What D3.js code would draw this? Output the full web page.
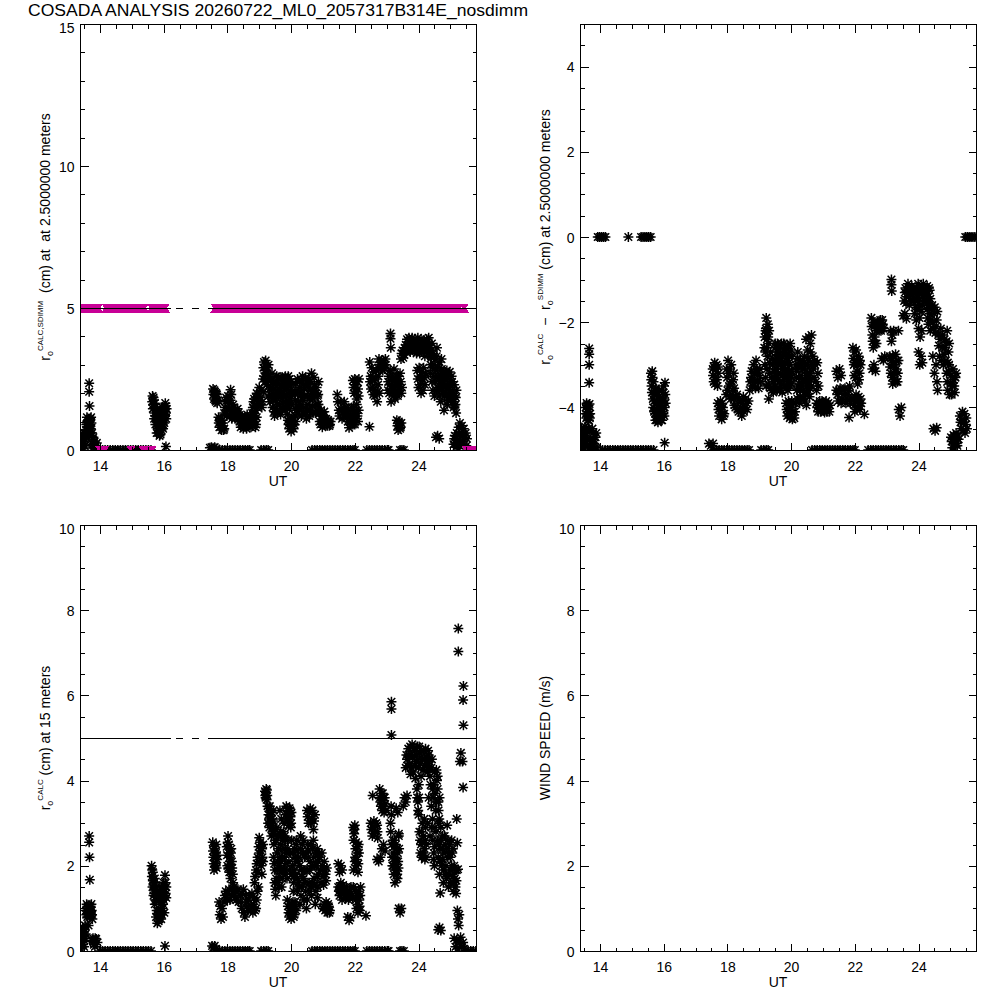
<!DOCTYPE html>
<html><head><meta charset="utf-8">
<script src="https://cdn.jsdelivr.net/npm/d3@7"></script>
<style>
body{margin:0;background:#fff}
svg{display:block}
text{font-family:"Liberation Sans",Arial,sans-serif;fill:#000;white-space:pre}
</style>
</head><body>
<svg id="c" width="1000" height="1000"></svg>
<script>
// ---------------- DATA ----------------
const titleText = "COSADA ANALYSIS 20260722_ML0_2057317B314E_nosdimm";
const utDomain = [13.372, 25.805];
const xMajorTicks = [14, 16, 18, 20, 22, 24];
const xMinorTicks = [13.5,14.5,15,15.5,16.5,17,17.5,18.5,19,19.5,20.5,21,21.5,22.5,23,23.5,24.5,25,25.5];

// Panel 1: r0 CALC at 2.5 m (black asterisks)
const calc25 = [
 [13.39,0.10],[13.41,0.40],[13.43,0.20],[13.45,0.55],[13.47,0.05],[13.49,0.30],[13.51,0.60],[13.53,0.15],[13.55,0.45],[13.57,0.90],[13.59,1.15],[13.61,0.70],[13.63,1.00],[13.65,0.55],[13.67,0.85],[13.69,1.10],[13.71,0.75],[13.73,0.95],[13.75,0.60],[13.78,0.35],[13.80,0.10],[13.83,0.30],[13.86,0.15],[13.90,0.25],[13.66,2.35],[13.66,2.05],[13.67,1.55],[13.66,0.65],
 [13.38,0.30],[13.40,0.55],[13.42,0.05],[13.44,0.35],[13.46,0.25],[13.48,0.45],[13.50,0.15],[13.52,0.40],[13.54,0.60],[13.56,0.70],[13.58,0.50],[13.60,0.95],[13.62,0.60],[13.64,0.80],[13.66,1.05],[13.68,0.70],[13.70,0.90],[13.72,1.15],[13.74,0.50],[13.76,0.20],[13.79,0.45],[13.82,0.05],
 [14.00,0],[14.08,0],[14.16,0],[14.24,0],[14.32,0],[14.40,0],[14.48,0],[14.56,0],[14.64,0],[14.72,0],[14.80,0],[14.88,0],[14.96,0],[15.04,0],[15.12,0],[15.20,0],[15.28,0],[15.36,0],[15.44,0],[15.52,0],[15.60,0],
 [15.65,1.90],[15.67,1.60],[15.69,1.75],[15.71,1.30],[15.73,1.50],[15.75,1.10],[15.77,1.40],[15.79,0.90],[15.81,1.20],[15.83,0.60],[15.85,0.95],[15.87,0.50],[15.89,0.80],[15.91,1.05],[15.93,0.70],[15.95,1.25],[15.97,0.90],[15.99,1.35],[16.01,1.10],[16.03,1.50],[16.05,1.65],[16.07,1.30],[16.09,1.45],[16.07,0.12],
 [15.64,1.70],[15.66,1.45],[15.68,1.85],[15.70,1.10],[15.72,1.65],[15.74,0.90],[15.76,1.20],[15.78,0.60],[15.80,1.45],[15.82,0.75],[15.84,1.15],[15.86,0.65],[15.88,1.30],[15.90,0.55],[15.92,1.00],[15.94,0.80],[15.96,1.50],[15.98,0.75],[16.00,1.40],[16.02,0.95],[16.04,1.25],[16.06,1.55],[16.08,1.10],
 [17.45,0.08],[17.50,0.10],[17.55,0.06],[17.60,0.10],[17.65,0.05],
 [17.55,2.15],[17.58,1.80],[17.61,2.05],[17.64,1.70],[17.67,1.95],[17.70,1.75],[18.10,2.12],
 [17.56,1.95],[17.59,2.10],[17.62,1.75],[17.65,2.00],[17.68,1.65],
 [17.72,1.15],[17.75,0.80],[17.78,1.00],[17.82,0.70],[17.86,0.95],[17.90,0.75],
 [17.73,0.95],[17.77,1.10],[17.80,0.85],[17.84,1.05],[17.88,0.70],
 [17.90,1.30],[17.94,1.70],[17.98,1.20],[18.02,1.90],[18.06,1.45],[18.10,1.75],[18.14,1.10],[18.18,1.60],[18.22,1.25],[18.26,1.40],[18.30,1.15],[18.34,1.30],
 [17.92,1.50],[17.96,1.85],[18.00,1.40],[18.04,1.65],[18.08,1.20],[18.12,1.95],[18.16,1.35],[18.20,1.50],[18.24,1.10],[18.28,1.30],[18.32,1.45],[18.36,1.20],
 [18.38,1.00],[18.42,0.80],[18.46,1.20],[18.50,0.75],[18.54,1.05],[18.58,0.85],[18.62,1.25],[18.66,0.95],[18.70,1.10],[18.74,0.80],[18.78,1.30],[18.82,1.00],[18.86,1.20],[18.90,0.90],
 [18.40,1.15],[18.44,0.95],[18.48,0.85],[18.52,1.10],[18.56,0.95],[18.60,0.75],[18.64,1.10],[18.68,0.85],[18.72,1.20],[18.76,1.00],[18.80,0.85],[18.84,1.10],[18.88,0.80],[18.92,1.15],
 [18.80,1.50],[18.84,1.80],[18.88,1.40],[18.92,2.00],[18.96,1.65],[19.00,2.20],[19.04,1.85],[19.08,1.50],[19.12,2.05],
 [18.82,1.70],[18.86,1.55],[18.90,1.85],[18.94,1.50],[18.98,1.90],[19.02,1.60],[19.06,2.10],[19.10,1.70],
 [19.12,2.50],[19.15,3.10],[19.18,2.80],[19.20,3.15],[19.23,2.30],[19.26,2.90],[19.28,1.90],[19.31,2.60],[19.34,1.70],[19.37,2.20],[19.40,2.70],
 [19.13,2.90],[19.16,2.60],[19.19,2.40],[19.21,2.95],[19.24,2.70],[19.27,2.45],[19.29,3.00],[19.32,2.15],[19.35,2.45],[19.38,1.90],[19.39,2.45],
 [19.42,1.50],[19.45,2.40],[19.48,1.20],[19.52,2.00],[19.55,2.60],[19.58,1.60],[19.62,2.30],[19.65,1.35],[19.68,2.55],[19.72,1.80],[19.75,2.20],[19.78,1.50],[19.82,2.60],[19.85,1.90],[19.88,2.40],[19.92,1.70],[19.95,2.50],[19.98,2.10],[20.02,1.60],
 [19.43,1.90],[19.46,1.75],[19.50,2.30],[19.53,1.45],[19.56,2.10],[19.60,1.90],[19.63,1.60],[19.66,2.10],[19.70,2.30],[19.73,1.45],[19.76,2.00],[19.80,2.35],[19.83,1.70],[19.86,2.20],[19.90,2.00],[19.93,2.30],[19.96,1.80],[20.00,2.40],[20.03,1.95],
 [19.44,2.15],[19.47,1.35],[19.51,1.75],[19.54,2.45],[19.57,1.30],[19.61,2.55],[19.64,1.95],[19.67,1.25],[19.71,2.05],[19.74,2.50],[19.77,1.70],[19.81,1.40],[19.84,2.45],[19.87,1.55],[19.91,2.60],[19.94,1.45],[19.97,2.25],[20.01,2.00],
 [19.88,1.25],[19.92,0.90],[19.96,1.10],[20.00,0.65],[20.04,1.00],[20.08,0.75],[20.12,1.20],
 [19.90,1.05],[19.94,0.75],[19.98,0.95],[20.02,0.85],[20.06,1.15],[20.10,0.90],[20.14,1.00],
 [20.12,2.00],[20.16,1.40],[20.20,2.50],[20.24,1.70],[20.28,2.20],[20.32,1.20],[20.36,2.60],[20.40,1.50],[20.44,2.30],[20.48,1.10],[20.52,1.90],[20.56,2.50],[20.60,1.40],[20.64,2.70],[20.68,1.80],[20.72,2.55],[20.76,1.30],[20.80,2.20],[20.84,1.60],
 [20.14,1.75],[20.18,2.10],[20.22,1.30],[20.26,2.40],[20.30,1.60],[20.34,2.00],[20.38,1.35],[20.42,1.90],[20.46,2.55],[20.50,1.40],[20.54,2.20],[20.58,1.80],[20.62,2.10],[20.66,1.55],[20.70,2.10],[20.74,1.90],[20.78,1.60],[20.82,1.90],[20.86,2.40],
 [20.13,2.35],[20.17,1.55],[20.21,2.00],[20.25,1.45],[20.29,1.90],[20.33,2.45],[20.37,1.75],[20.41,2.15],[20.45,1.25],[20.49,2.35],[20.53,1.60],[20.57,1.20],[20.61,2.40],[20.65,2.00],[20.69,1.30],[20.73,2.30],[20.77,2.00],[20.81,1.40],[20.85,1.95],
 [20.86,1.60],[20.90,1.00],[20.94,1.40],[20.98,0.80],[21.02,1.20],[21.06,0.90],[21.10,1.10],[21.14,0.85],[21.18,1.00],[21.22,0.90],
 [20.88,1.30],[20.92,0.90],[20.96,1.20],[21.00,1.00],[21.04,1.35],[21.08,1.05],[21.12,0.95],[21.16,1.05],[21.20,0.85],[21.24,1.00],
 [21.45,1.95],[21.50,1.40],[21.55,1.70],[21.60,1.10],[21.65,1.50],[21.70,1.25],
 [21.47,1.70],[21.52,1.20],[21.57,1.45],[21.62,1.30],[21.67,1.70],[21.72,1.50],
 [21.74,1.30],[21.78,1.00],[21.82,0.78],[21.86,1.20],[21.90,1.50],[21.94,0.90],[21.98,1.35],[22.02,1.10],[22.06,1.60],[22.10,1.00],
 [21.76,1.15],[21.80,1.40],[21.84,1.00],[21.88,0.90],[21.92,1.20],[21.96,1.50],[22.00,0.90],[22.04,1.30],[22.08,1.20],[22.12,1.40],
 [21.94,2.45],[21.98,2.00],[22.02,2.30],[22.06,1.80],[22.10,2.15],[22.13,2.50],[22.46,0.82],
 [21.96,2.20],[22.00,2.50],[22.04,2.05],[22.08,2.40],[22.12,1.90],
 [22.47,3.10],[22.50,2.60],[22.53,2.90],[22.56,2.20],[22.60,2.75],[22.63,1.90],[22.66,2.50],[22.70,1.70],[22.73,2.30],[22.76,2.85],
 [22.48,2.40],[22.51,2.15],[22.54,2.50],[22.58,1.95],[22.61,2.45],[22.65,2.10],[22.68,2.80],[22.71,2.05],[22.74,2.60],[22.77,2.00],
 [22.76,3.20],[22.80,2.90],[22.84,3.15],[22.88,2.80],[22.92,3.00],[22.96,3.20],
 [22.78,3.00],[22.82,3.10],[22.86,2.95],[22.90,3.15],[22.94,2.85],[22.97,3.00],
 [23.12,4.10],[23.12,3.92],[23.13,3.60],
 [23.05,2.40],[23.08,2.00],[23.11,2.80],[23.14,1.70],[23.17,2.50],[23.20,2.10],[23.23,2.85],[23.26,1.80],[23.29,2.30],[23.32,2.60],[23.35,1.90],[23.38,2.20],[23.42,2.70],[23.46,2.00],
 [23.04,2.10],[23.07,2.60],[23.10,2.30],[23.13,2.05],[23.16,2.25],[23.19,2.60],[23.22,1.90],[23.25,2.40],[23.28,2.05],[23.31,2.00],[23.34,2.40],[23.37,2.60],[23.40,2.10],[23.44,2.40],[23.48,2.20],
 [23.32,1.05],[23.36,0.70],[23.40,0.95],[23.44,0.80],[23.34,0.85],[23.38,1.00],[23.42,0.75],[23.46,0.95],
 [23.45,3.20],[23.50,3.50],[23.55,3.35],[23.60,3.70],[23.64,3.90],[23.68,3.55],[23.72,3.80],[23.76,3.60],[23.80,3.95],[23.84,3.70],[23.88,3.50],[23.92,3.85],[23.96,3.60],[24.00,3.75],[24.04,3.40],[24.08,3.90],[24.12,3.55],[24.16,3.70],[24.20,3.30],[24.24,3.80],[24.28,3.50],[24.32,3.95],[24.36,3.60],[24.40,3.30],
 [23.47,3.40],[23.52,3.25],[23.57,3.60],[23.62,3.45],[23.66,3.70],[23.70,3.95],[23.74,3.45],[23.78,3.75],[23.82,3.55],[23.86,3.85],[23.90,3.65],[23.94,3.40],[23.98,3.95],[24.02,3.60],[24.06,3.70],[24.10,3.45],[24.14,3.85],[24.18,3.50],[24.22,3.65],[24.26,3.90],[24.30,3.40],[24.34,3.70],[24.38,3.50],[24.42,3.75],
 [23.96,2.80],[24.00,2.20],[24.04,2.60],[24.08,2.00],[24.12,2.50],[24.16,2.90],[24.20,2.30],
 [23.98,2.50],[24.02,2.90],[24.06,2.30],[24.10,2.75],[24.14,2.10],[24.18,2.55],[24.22,2.70],
 [24.38,3.00],[24.42,2.40],[24.46,3.40],[24.50,1.90],[24.54,2.80],[24.58,3.60],[24.62,2.20],[24.66,3.10],[24.70,1.70],[24.74,2.60],
 [24.40,3.50],[24.44,2.90],[24.48,2.60],[24.52,3.20],[24.56,2.10],[24.60,2.90],[24.64,2.50],[24.68,2.20],[24.72,3.20],[24.76,2.00],
 [24.37,2.70],[24.41,3.25],[24.45,2.10],[24.49,3.00],[24.53,2.40],[24.57,3.30],[24.61,2.60],[24.65,1.90],[24.69,2.45],[24.73,2.85],[24.77,2.35],[24.81,2.55],[24.85,2.20],[24.89,2.80],[24.93,1.75],[24.97,2.30],[25.01,2.00],[25.05,2.40],[25.09,1.90],[25.13,1.55],[25.17,1.85],
 [24.55,0.45],[24.60,0.50],[24.65,0.40],
 [24.70,2.80],[24.74,2.30],[24.78,2.70],[24.82,1.90],[24.86,2.50],[24.90,1.60],[24.94,2.20],[24.98,2.75],[25.02,1.80],[25.06,2.10],[25.10,1.50],[25.14,1.90],[25.18,1.30],[24.80,1.40],
 [24.72,2.10],[24.76,2.55],[24.80,2.20],[24.84,2.75],[24.88,2.00],[24.92,2.60],[24.96,1.90],[25.00,2.40],[25.04,2.60],[25.08,1.70],[25.12,2.30],[25.16,1.60],[25.19,2.10],
 [25.10,0.20],[25.14,0.50],[25.18,0.10],[25.22,0.35],[25.26,0.80],[25.30,0.95],[25.34,0.60],[25.38,0.30],[25.42,0.75],[25.46,0.45],[25.50,0.15],[25.26,0.05],
 [25.12,0.40],[25.16,0.25],[25.20,0.60],[25.24,0.20],[25.28,0.50],[25.32,0.30],[25.36,0.85],[25.40,0.55],[25.44,0.20],[25.48,0.60],[25.52,0.40],
 [17.76,0],[17.84,0],[17.92,0],[18.00,0],[18.08,0],[18.16,0],[18.24,0],[18.32,0],[18.40,0],[18.48,0],[18.56,0],[18.64,0],[18.70,0],
 [19.06,0],[19.14,0],[19.22,0],[19.28,0],
 [20.66,0],[20.74,0],[20.82,0],[20.90,0],[20.98,0],[21.06,0],[21.14,0],[21.22,0],[21.30,0],[21.38,0],[21.46,0],[21.54,0],[21.62,0],[21.70,0],[21.78,0],[21.86,0],[21.94,0],[22.00,0],
 [22.38,0],[22.46,0],[22.54,0],[22.62,0],[22.70,0],[22.78,0],[22.86,0],[22.94,0],[23.02,0],[23.06,0],
 [23.42,0],[23.48,0],[23.54,0]
];

// Panel 1: r0 SDIMM (magenta markers)
const sdimm25 = [
 [13.40,5],[13.55,5],[13.70,5],[13.84,5],[13.95,5],[14.20,5],[14.33,5],[14.47,5],[14.61,5],[14.75,5],[14.89,5],[15.03,5],[15.17,5],[15.30,5],[15.38,5],[15.62,5],[15.76,5],[15.90,5],[16.04,5],
 [17.62,5],[17.77,5],[17.92,5],[18.07,5],[18.22,5],[18.37,5],[18.52,5],[18.67,5],[18.82,5],[18.97,5],[19.12,5],[19.27,5],[19.42,5],[19.57,5],[19.72,5],[19.87,5],[20.02,5],[20.17,5],[20.32,5],[20.47,5],[20.62,5],[20.77,5],[20.92,5],[21.07,5],[21.22,5],[21.37,5],[21.52,5],[21.67,5],[21.82,5],[21.97,5],[22.12,5],[22.27,5],[22.42,5],[22.57,5],[22.72,5],[22.87,5],[23.02,5],[23.17,5],[23.32,5],[23.47,5],[23.62,5],[23.77,5],[23.92,5],[24.07,5],[24.22,5],[24.37,5],[24.52,5],[24.67,5],[24.82,5],[24.97,5],[25.12,5],[25.27,5],[25.43,5],
 [13.99,0],[14.07,0],[14.15,0],[14.97,0],[15.35,0],[15.45,0],[15.55,0],[15.63,0],[25.50,0],[25.60,0],[25.70,0],[25.80,0]
];

// Panel 2: r0 CALC - r0 SDIMM at 2.5 m
const diff25 = [
 [13.93,0],[13.99,0],[14.05,0],[14.11,0],[14.17,0],[14.89,0],[15.29,0],[15.35,0],[15.41,0],[15.47,0],[15.53,0],[15.59,0],[25.47,0],[25.53,0],[25.59,0],[25.65,0],[25.71,0],[25.77,0],
 [13.38,-4.60],[13.40,-4.90],[13.42,-4.50],[13.44,-4.80],[13.46,-4.95],[13.48,-4.55],[13.50,-4.85],[13.52,-4.70],[13.55,-4.00],[13.57,-4.25],[13.59,-3.95],[13.61,-4.20],[13.63,-4.05],[13.65,-4.30],[13.67,-3.92],[13.69,-4.15],[13.56,-4.60],[13.60,-4.90],[13.64,-4.50],[13.70,-4.75],[13.74,-4.95],[13.78,-4.60],[13.82,-4.85],[13.86,-4.70],[13.90,-4.95],[13.66,-2.62],[13.66,-2.75],[13.66,-3.00],[13.66,-3.42],
 [13.39,-4.75],[13.41,-4.60],[13.43,-4.95],[13.45,-4.65],[13.47,-4.75],[13.49,-4.95],[13.51,-4.60],[13.53,-4.45],[13.55,-4.80],[13.58,-4.50],[13.62,-4.75],[13.66,-4.95],[13.68,-4.55],[13.72,-4.85],[13.76,-4.50],[13.80,-4.75],[13.84,-4.95],[13.88,-4.60],[13.56,-4.15],[13.58,-3.90],[13.60,-4.10],[13.62,-4.30],[13.64,-3.95],[13.66,-4.15],[13.68,-4.25],
 [15.60,-3.20],[15.62,-3.50],[15.64,-3.15],[15.66,-3.80],[15.68,-3.40],[15.70,-4.10],[15.72,-3.60],[15.74,-4.30],[15.76,-3.90],[15.78,-4.20],[15.80,-3.70],[15.82,-4.35],[15.84,-4.00],[15.86,-3.75],[15.88,-4.25],[15.90,-3.95],[15.92,-4.30],[15.94,-3.60],[15.96,-4.10],[15.98,-3.85],[16.00,-3.50],[16.02,-4.20],[16.04,-3.42],[16.06,-3.90],[16.03,-4.83],
 [15.61,-3.35],[15.63,-3.65],[15.65,-3.30],[15.67,-4.00],[15.69,-3.70],[15.71,-3.85],[15.73,-4.15],[15.75,-3.55],[15.77,-4.05],[15.79,-4.30],[15.81,-3.90],[15.83,-4.15],[15.85,-3.60],[15.87,-4.10],[15.89,-3.80],[15.91,-4.05],[15.93,-3.85],[15.95,-4.30],[15.97,-3.65],[15.99,-4.15],[16.01,-3.80],[16.03,-4.00],[16.05,-3.70],
 [17.42,-4.85],[17.48,-4.90],[17.55,-4.85],
 [17.54,-3.10],[17.57,-3.40],[17.60,-2.95],[17.63,-3.30],[17.66,-3.00],[17.69,-3.50],[17.72,-3.20],
 [17.55,-3.25],[17.58,-3.05],[17.61,-3.45],[17.64,-3.10],[17.67,-3.35],[17.70,-3.05],
 [17.70,-3.90],[17.74,-4.20],[17.78,-3.85],[17.82,-4.28],[17.86,-4.00],[17.90,-4.15],
 [17.72,-4.05],[17.76,-3.95],[17.80,-4.10],[17.84,-3.90],[17.88,-4.20],
 [17.96,-3.70],[17.99,-3.30],[18.02,-2.90],[18.05,-3.50],[18.08,-3.10],[18.11,-3.80],[18.14,-3.40],[18.17,-3.60],[18.20,-3.20],
 [17.97,-3.10],[18.00,-3.60],[18.03,-3.20],[18.06,-3.75],[18.09,-3.45],[18.12,-3.00],[18.15,-3.70],[18.18,-3.35],[18.21,-3.55],
 [18.20,-3.80],[18.25,-4.00],[18.30,-3.70],[18.35,-4.10],[18.40,-3.85],[18.45,-4.20],[18.50,-3.75],[18.55,-4.00],[18.60,-3.90],
 [18.22,-3.95],[18.27,-3.75],[18.32,-4.05],[18.37,-3.80],[18.42,-4.00],[18.47,-3.90],[18.52,-4.10],[18.57,-3.80],[18.62,-4.05],[18.66,-3.85],
 [18.70,-3.60],[18.74,-3.30],[18.78,-3.50],[18.82,-3.00],[18.86,-3.40],[18.90,-2.90],[18.94,-3.20],[18.98,-3.55],[19.02,-3.10],
 [18.72,-3.40],[18.76,-3.15],[18.80,-3.35],[18.84,-3.20],[18.88,-3.55],[18.92,-3.10],[18.96,-3.40],[19.00,-3.25],[19.04,-3.40],
 [19.16,-2.60],[19.20,-2.20],[19.22,-1.90],[19.24,-2.40],[19.27,-2.05],[19.30,-2.50],[19.18,-3.00],[19.22,-3.50],[19.26,-2.80],[19.30,-3.80],[19.33,-3.20],[19.36,-2.70],[19.39,-3.60],[19.42,-3.00],[19.45,-3.40],
 [19.17,-2.35],[19.19,-2.70],[19.21,-2.15],[19.23,-2.60],[19.25,-2.25],[19.28,-2.35],[19.31,-2.20],[19.20,-3.30],[19.24,-3.10],[19.28,-3.45],[19.32,-2.95],[19.35,-3.55],[19.38,-3.30],[19.41,-2.85],[19.44,-3.65],[19.46,-3.15],
 [19.50,-2.50],[19.55,-2.70],[19.60,-2.55],[19.65,-2.85],[19.70,-2.50],[19.75,-2.75],[19.80,-2.60],[19.85,-2.85],[19.90,-2.55],[19.95,-2.80],[20.00,-2.65],
 [19.52,-2.60],[19.57,-2.50],[19.62,-2.75],[19.67,-2.60],[19.72,-2.80],[19.77,-2.50],[19.82,-2.70],[19.87,-2.60],[19.92,-2.75],[19.97,-2.50],[20.02,-2.80],
 [19.48,-3.50],[19.52,-3.10],[19.56,-3.60],[19.60,-3.00],[19.64,-3.40],[19.68,-3.20],[19.72,-3.65],[19.76,-3.00],[19.80,-3.30],[19.84,-3.55],[19.88,-3.10],[19.92,-3.40],[19.96,-3.00],[20.00,-3.30],
 [19.50,-3.30],[19.54,-2.95],[19.58,-3.35],[19.62,-3.55],[19.66,-3.00],[19.70,-3.45],[19.74,-3.25],[19.78,-3.50],[19.82,-3.10],[19.86,-3.30],[19.90,-3.60],[19.94,-3.20],[19.98,-3.50],[20.02,-3.15],
 [19.49,-2.90],[19.53,-3.25],[19.57,-2.85],[19.61,-3.20],[19.65,-3.60],[19.69,-2.95],[19.73,-3.10],[19.77,-3.35],[19.81,-2.95],[19.85,-3.20],[19.89,-3.45],[19.93,-2.95],[19.97,-3.25],[20.01,-3.45],
 [19.84,-3.90],[19.88,-4.20],[19.92,-3.85],[19.96,-4.25],[20.00,-4.00],[20.04,-4.28],[20.08,-3.90],[20.12,-4.10],
 [19.86,-4.05],[19.90,-4.10],[19.94,-3.95],[19.98,-4.15],[20.02,-3.85],[20.06,-4.10],[20.10,-4.25],[20.13,-3.90],
 [20.15,-3.00],[20.18,-3.60],[20.21,-2.70],[20.24,-3.30],[20.27,-3.90],[20.30,-2.90],[20.33,-3.50],[20.36,-3.10],[20.39,-3.80],[20.42,-2.80],[20.45,-3.40],[20.48,-3.95],[20.51,-3.00],[20.54,-3.60],[20.57,-3.20],[20.60,-2.70],[20.63,-3.50],
 [20.16,-3.30],[20.19,-2.85],[20.22,-3.50],[20.25,-3.05],[20.28,-3.60],[20.31,-3.25],[20.34,-3.80],[20.37,-2.90],[20.40,-3.40],[20.43,-3.65],[20.46,-3.00],[20.49,-3.50],[20.52,-3.30],[20.55,-2.90],[20.58,-3.75],[20.61,-3.20],[20.64,-3.00],
 [20.17,-3.15],[20.20,-3.80],[20.23,-3.00],[20.26,-3.45],[20.29,-3.75],[20.32,-3.05],[20.35,-3.35],[20.38,-3.60],[20.41,-3.10],[20.44,-3.85],[20.47,-3.25],[20.50,-3.70],[20.53,-2.85],[20.56,-3.40],[20.59,-3.55],[20.62,-3.35],
 [20.47,-2.40],[20.52,-2.65],[20.56,-2.35],[20.60,-2.50],[20.64,-2.30],
 [20.68,-2.80],[20.72,-3.30],[20.76,-3.00],[20.80,-3.60],[20.84,-3.20],[20.70,-3.10],[20.74,-2.90],[20.78,-3.40],[20.82,-2.95],[20.86,-3.50],
 [20.80,-3.90],[20.85,-4.10],[20.90,-3.85],[20.95,-4.05],[21.00,-3.90],[21.05,-4.12],[21.10,-3.85],[21.15,-4.00],[21.20,-4.10],
 [20.82,-4.00],[20.87,-3.95],[20.92,-4.10],[20.97,-3.85],[21.02,-4.00],[21.07,-3.90],[21.12,-4.10],[21.17,-3.90],[21.22,-3.95],
 [21.42,-3.15],[21.47,-3.30],[21.52,-3.10],[21.57,-3.25],
 [21.42,-3.60],[21.48,-3.85],[21.54,-3.55],[21.60,-3.80],[21.66,-3.60],[21.72,-3.90],[21.78,-3.70],[21.84,-3.50],[21.88,-3.80],[21.82,-4.24],
 [21.45,-3.70],[21.51,-3.60],[21.57,-3.90],[21.63,-3.70],[21.69,-3.55],[21.75,-3.80],[21.81,-3.60],[21.86,-3.90],
 [21.94,-2.60],[21.97,-3.00],[22.00,-2.70],[22.03,-3.30],[22.06,-2.90],[22.09,-3.45],[22.12,-2.80],[22.15,-3.20],[22.18,-3.00],[21.96,-3.80],[22.00,-4.10],[22.04,-3.70],[22.08,-4.00],[22.12,-3.75],[22.16,-4.05],[22.20,-3.90],[22.30,-4.16],
 [21.95,-2.85],[21.98,-3.25],[22.01,-2.95],[22.04,-2.65],[22.07,-3.15],[22.10,-3.00],[22.13,-3.35],[22.16,-2.90],[21.98,-3.95],[22.02,-3.80],[22.06,-4.05],[22.10,-3.85],[22.14,-3.95],[22.18,-3.80],
 [22.52,-1.90],[22.55,-2.30],[22.58,-2.60],[22.61,-2.10],[22.64,-2.50],[22.67,-2.20],[22.55,-3.10],[22.60,-3.00],[22.65,-3.15],
 [22.53,-2.10],[22.56,-2.45],[22.59,-2.00],[22.62,-2.35],[22.65,-2.05],[22.68,-2.50],
 [22.72,-2.00],[22.76,-2.20],[22.80,-1.95],[22.84,-2.15],[22.88,-2.05],[22.85,-2.85],[22.90,-2.90],[22.94,-2.80],
 [22.74,-2.10],[22.78,-2.05],[22.82,-2.20],[22.86,-1.95],[22.90,-2.15],
 [23.15,-1.00],[23.15,-1.12],[23.16,-1.27],[23.12,-2.20],[23.15,-2.45],[23.18,-2.30],[23.22,-2.20],
 [23.10,-2.80],[23.13,-3.20],[23.16,-2.90],[23.19,-3.45],[23.22,-3.00],[23.25,-3.35],[23.28,-2.75],[23.31,-3.10],[23.34,-3.40],[23.37,-2.90],[23.37,-2.20],
 [23.11,-3.05],[23.14,-2.85],[23.17,-3.30],[23.20,-2.80],[23.23,-3.20],[23.26,-3.00],[23.29,-3.40],[23.32,-2.90],[23.35,-3.20],
 [23.38,-4.05],[23.42,-4.20],[23.46,-4.00],
 [23.52,-1.85],[23.57,-1.80],[23.62,-1.92],
 [23.55,-1.50],[23.59,-1.20],[23.63,-1.40],[23.67,-1.10],[23.71,-1.60],[23.75,-1.30],[23.79,-1.15],[23.83,-1.50],[23.87,-1.25],[23.91,-1.65],[23.95,-1.35],[23.99,-1.10],[24.03,-1.45],[24.07,-1.20],[24.11,-1.60],[24.15,-1.10],[24.19,-1.35],[24.23,-1.50],[24.27,-1.15],[24.31,-1.40],[24.35,-1.25],
 [23.57,-1.30],[23.61,-1.55],[23.65,-1.25],[23.69,-1.40],[23.73,-1.20],[23.77,-1.50],[23.81,-1.35],[23.85,-1.20],[23.89,-1.45],[23.93,-1.20],[23.97,-1.50],[24.01,-1.30],[24.05,-1.60],[24.09,-1.35],[24.13,-1.25],[24.17,-1.50],[24.21,-1.20],[24.25,-1.35],[24.29,-1.60],[24.33,-1.20],[24.37,-1.45],
 [23.88,-1.80],[23.93,-1.95],[23.98,-1.70],[24.03,-1.90],[24.08,-1.75],
 [24.00,-2.15],[24.05,-2.35],[24.10,-2.20],[24.00,-2.70],[24.04,-3.00],[24.08,-2.80],[24.12,-2.95],
 [24.25,-1.50],[24.29,-1.90],[24.33,-1.60],[24.37,-2.20],[24.41,-1.70],[24.45,-2.00],[24.49,-1.80],[24.53,-2.25],[24.57,-1.95],
 [24.27,-1.70],[24.31,-2.05],[24.35,-1.80],[24.39,-1.95],[24.43,-1.60],[24.47,-2.15],[24.51,-1.65],[24.55,-2.10],[24.59,-1.75],
 [24.45,-2.80],[24.50,-3.20],[24.55,-3.00],[24.58,-3.40],[24.60,-3.60],
 [24.47,-4.50],[24.52,-4.55],[24.57,-4.48],
 [24.62,-2.30],[24.66,-2.80],[24.70,-2.15],[24.74,-2.60],[24.78,-3.00],[24.82,-2.40],[24.86,-2.90],[24.90,-2.20],[24.94,-2.70],
 [24.64,-2.55],[24.68,-2.40],[24.72,-2.90],[24.76,-2.30],[24.80,-2.75],[24.84,-2.60],[24.88,-2.45],[24.92,-2.95],[24.96,-2.50],
 [24.88,-3.20],[24.92,-3.60],[24.96,-3.00],[25.00,-3.45],[25.04,-3.70],[25.08,-3.10],[25.12,-3.50],[25.16,-3.30],
 [24.90,-3.40],[24.94,-3.15],[24.98,-3.70],[25.02,-3.25],[25.06,-3.50],[25.10,-3.35],[25.14,-3.65],[25.18,-3.20],
 [25.02,-4.70],[25.06,-4.95],[25.10,-4.65],[25.14,-4.85],[25.18,-4.60],[25.22,-4.90],[25.26,-4.75],
 [25.04,-4.80],[25.08,-4.75],[25.12,-4.95],[25.16,-4.70],[25.20,-4.85],[25.24,-4.65],
 [25.30,-4.20],[25.34,-4.50],[25.38,-4.10],[25.42,-4.35],[25.46,-4.60],[25.50,-4.25],
 [25.32,-4.35],[25.36,-4.30],[25.40,-4.55],[25.44,-4.15],[25.48,-4.40],[25.52,-4.50],
 [14.08,-5],[14.16,-5],[14.24,-5],[14.32,-5],[14.40,-5],[14.48,-5],[14.56,-5],[14.64,-5],[14.72,-5],[14.80,-5],[14.88,-5],[14.96,-5],[15.04,-5],[15.12,-5],[15.20,-5],[15.28,-5],[15.36,-5],[15.44,-5],[15.52,-5],[15.60,-5],[15.68,-5],
 [17.58,-5],[17.66,-5],[17.74,-5],[17.82,-5],[17.90,-5],[17.98,-5],[18.06,-5],[18.14,-5],[18.22,-5],[18.30,-5],[18.38,-5],[18.46,-5],[18.54,-5],[18.62,-5],[18.68,-5],
 [19.06,-5],[19.14,-5],[19.22,-5],[19.28,-5],
 [20.66,-5],[20.74,-5],[20.82,-5],[20.90,-5],[20.98,-5],[21.06,-5],[21.14,-5],[21.22,-5],[21.30,-5],[21.38,-5],[21.46,-5],[21.54,-5],[21.62,-5],[21.70,-5],[21.78,-5],[21.86,-5],[21.94,-5],[22.00,-5],
 [22.42,-5],[22.50,-5],[22.58,-5],[22.66,-5],[22.74,-5],[22.82,-5],[22.90,-5],[22.98,-5],[23.06,-5],[23.14,-5],[23.22,-5],[23.30,-5],[23.38,-5],[23.46,-5],[23.52,-5]
];

// Panel 3: r0 CALC at 15 m
const calc15 = [
 [13.40,0.05],[13.42,0.45],[13.44,0.20],[13.46,0.55],[13.48,0.35],[13.50,0.10],[13.52,0.50],[13.54,0.30],[13.56,0.95],[13.58,1.10],[13.60,0.80],[13.62,1.00],[13.64,0.60],[13.66,0.90],[13.66,2.70],[13.66,2.55],[13.67,2.20],[13.68,1.67],[13.70,1.05],[13.72,0.85],[13.74,0.95],[13.76,0.75],[13.78,0.30],[13.80,0.20],[13.82,0.25],[13.84,0.10],[13.88,0.28],[13.92,0.20],
 [13.39,0.30],[13.41,0.15],[13.43,0.50],[13.45,0.30],[13.47,0.15],[13.49,0.45],[13.51,0.30],[13.53,0.60],[13.55,0.40],[13.57,0.85],[13.59,0.95],[13.61,1.05],[13.63,0.85],[13.65,1.00],[13.67,0.80],[13.69,0.95],[13.71,0.90],[13.73,1.10],[13.75,0.85],[13.77,0.25],[13.81,0.15],[13.85,0.30],
 [14.00,0],[14.08,0],[14.16,0],[14.24,0],[14.32,0],[14.40,0],[14.48,0],[14.56,0],[14.64,0],[14.72,0],[14.80,0],[14.88,0],[14.96,0],[15.04,0],[15.12,0],[15.20,0],[15.28,0],[15.36,0],[15.44,0],[15.52,0],[15.60,0],
 [15.62,2.00],[15.63,1.75],[15.65,1.50],[15.66,1.85],[15.68,1.30],[15.70,1.60],[15.72,1.10],[15.74,1.45],[15.76,0.80],[15.78,1.20],[15.80,0.65],[15.82,0.95],[15.84,0.70],[15.86,1.40],[15.88,0.85],[15.90,1.10],[15.92,0.75],[15.94,1.30],[15.96,1.00],[15.98,1.55],[16.00,1.20],[16.02,1.45],[16.04,1.78],[16.06,1.35],[16.08,1.50],[16.04,0.12],
 [15.64,1.90],[15.66,1.65],[15.68,1.55],[15.70,1.35],[15.72,1.70],[15.74,1.20],[15.76,1.50],[15.78,0.95],[15.80,1.30],[15.82,0.85],[15.84,1.25],[15.86,0.75],[15.88,1.20],[15.90,0.95],[15.92,1.50],[15.94,0.85],[15.96,1.40],[15.98,1.10],[16.00,1.60],[16.02,0.90],[16.04,1.30],[16.06,1.60],[16.08,1.25],
 [17.52,0.12],[17.56,0.08],[17.60,0.12],[17.64,0.05],
 [17.54,2.55],[17.56,2.20],[17.58,1.90],[17.60,2.40],[17.62,2.05],[17.64,2.30],[17.66,1.95],[17.68,2.15],
 [17.55,2.35],[17.57,2.05],[17.59,2.45],[17.61,2.25],[17.63,2.00],[17.65,2.50],[17.67,2.25],
 [17.74,1.15],[17.76,0.85],[17.78,1.05],[17.80,0.75],[17.83,1.00],[17.86,0.80],[17.89,1.15],[17.92,1.30],
 [17.98,2.45],[18.00,2.00],[18.02,2.70],[18.04,2.30],[18.06,1.85],[18.08,2.10],[18.10,1.70],[18.12,2.40],[18.15,1.95],[18.18,1.60],
 [17.99,2.25],[18.01,2.55],[18.03,1.95],[18.05,2.50],[18.07,2.20],[18.09,1.95],[18.11,2.30],[18.14,2.10],[18.17,1.80],
 [17.95,1.40],[18.00,1.20],[18.05,1.45],[18.12,1.30],[18.20,1.50],[18.25,1.25],[18.30,1.40],[18.35,1.15],
 [18.40,1.30],[18.45,1.00],[18.50,1.45],[18.55,0.80],[18.60,1.15],[18.65,0.95],[18.70,1.30],[18.75,1.05],[18.80,0.90],[18.85,1.25],[18.90,1.00],[18.95,1.40],
 [17.97,1.25],[18.02,1.35],[18.08,1.20],[18.16,1.45],[18.22,1.35],[18.28,1.20],[18.33,1.45],[18.42,1.15],[18.47,1.35],[18.52,0.90],[18.57,1.30],[18.62,1.05],[18.67,1.20],[18.72,0.95],[18.77,1.35],[18.82,1.10],[18.87,0.95],[18.92,1.20],[18.97,1.50],
 [18.85,1.60],[18.90,1.90],[18.95,2.20],[18.98,2.45],[19.00,2.66],[19.02,2.10],[19.05,2.35],[19.08,1.80],[19.10,2.20],[19.12,2.50],
 [18.87,1.75],[18.92,2.05],[18.96,1.85],[19.00,2.30],[19.03,2.55],[19.06,2.00],[19.09,2.40],[19.12,2.10],
 [19.18,3.75],[19.20,3.60],[19.22,3.80],[19.25,3.65],[19.28,3.00],[19.30,3.35],[19.32,2.90],[19.35,3.20],[19.38,2.70],[19.40,3.10],[19.42,2.80],[19.45,3.30],
 [19.19,3.65],[19.21,3.72],[19.23,3.55],[19.24,3.78],[19.26,3.40],[19.29,3.20],[19.31,3.10],[19.33,3.40],[19.36,3.00],[19.39,3.25],[19.41,2.90],[19.44,3.05],[19.46,2.75],
 [19.45,2.20],[19.48,1.60],[19.50,2.60],[19.52,1.30],[19.55,2.90],[19.58,1.90],[19.60,2.40],[19.62,1.50],[19.65,3.30],[19.68,2.10],[19.70,2.70],[19.72,1.70],[19.75,2.40],[19.78,3.00],[19.80,1.90],[19.82,2.60],
 [19.46,2.50],[19.49,1.90],[19.51,2.85],[19.53,1.70],[19.56,2.30],[19.59,2.70],[19.61,2.00],[19.63,1.75],[19.66,2.50],[19.69,3.10],[19.71,1.90],[19.73,2.20],[19.76,2.80],[19.79,2.20],[19.81,2.40],[19.83,1.80],[19.86,2.30],[19.89,2.60],[19.93,2.10],
 [19.47,2.05],[19.50,1.45],[19.54,2.60],[19.57,2.10],[19.60,1.60],[19.64,2.20],[19.67,2.80],[19.70,1.50],[19.74,2.60],[19.77,1.90],[19.80,2.70],[19.84,2.05],[19.87,1.70],[19.90,2.40],[19.95,1.90],[19.99,2.30],[20.03,1.80],
 [19.85,3.40],[19.88,3.10],[19.90,3.30],[19.92,2.95],[19.95,3.35],[19.98,3.15],[20.00,3.00],[20.02,2.60],
 [19.86,3.20],[19.89,3.35],[19.91,3.05],[19.94,3.20],[19.97,3.30],[19.99,2.90],[20.01,3.25],
 [19.88,1.20],[19.92,0.90],[19.96,1.10],[20.00,0.75],[20.04,1.00],[20.08,0.80],[20.12,1.15],[20.16,0.95],
 [19.90,1.05],[19.94,0.80],[19.98,1.00],[20.02,0.90],[20.06,1.15],[20.10,0.85],[20.14,1.05],
 [20.05,2.00],[20.08,1.60],[20.10,2.40],[20.14,1.80],[20.18,2.60],[20.20,1.40],[20.24,2.20],[20.28,1.10],[20.30,2.70],[20.34,1.50],[20.38,2.30],[20.40,1.20],[20.44,1.90],[20.48,1.00],[20.52,2.50],[20.56,1.60],[20.60,2.10],[20.64,1.30],[20.68,2.40],[20.72,1.70],[20.76,1.10],[20.80,2.00],[20.84,1.50],
 [20.06,2.30],[20.09,1.90],[20.12,2.20],[20.16,2.50],[20.19,1.70],[20.22,2.10],[20.26,1.50],[20.29,2.40],[20.32,1.90],[20.36,2.50],[20.39,1.70],[20.42,2.20],[20.46,1.40],[20.50,1.90],[20.54,2.20],[20.58,1.90],[20.62,1.50],[20.66,2.00],[20.70,2.60],[20.74,2.00],[20.78,1.40],[20.82,1.75],[20.86,2.20],
 [20.07,1.40],[20.11,1.75],[20.15,2.10],[20.19,2.35],[20.23,1.60],[20.27,2.00],[20.31,1.30],[20.35,1.75],[20.39,2.60],[20.43,1.60],[20.47,2.30],[20.51,1.20],[20.55,2.35],[20.59,1.40],[20.63,2.50],[20.67,1.60],[20.71,2.20],[20.75,1.55],[20.79,2.30],[20.83,1.25],
 [20.50,3.30],[20.55,3.00],[20.60,3.35],[20.65,3.10],[20.70,2.85],[20.75,3.20],
 [20.52,3.15],[20.57,3.25],[20.62,3.00],[20.67,3.30],[20.72,3.05],
 [20.82,2.40],[20.86,1.80],[20.90,2.20],[20.94,1.60],[20.98,2.00],[21.02,1.55],[21.06,1.90],[21.10,1.65],
 [20.84,2.10],[20.88,2.30],[20.92,1.90],[20.96,2.30],[21.00,1.75],[21.04,2.10],[21.08,1.80],[21.12,1.95],
 [21.00,1.00],[21.05,1.10],[21.10,1.15],[21.14,0.90],[21.18,1.05],[21.22,0.95],
 [21.02,1.05],[21.07,0.95],[21.12,1.05],[21.16,1.10],[21.20,0.90],
 [21.48,2.05],[21.52,1.85],[21.56,2.00],[21.60,1.90],
 [21.48,1.50],[21.52,1.30],[21.56,1.60],[21.60,1.20],[21.65,1.45],[21.70,1.25],[21.75,1.35],[21.80,1.20],[21.85,1.40],[21.90,1.30],[21.95,1.50],
 [21.50,1.40],[21.54,1.50],[21.58,1.35],[21.63,1.55],[21.68,1.30],[21.73,1.50],[21.78,1.35],[21.83,1.25],[21.88,1.50],[21.93,1.25],
 [21.78,0.80],[21.82,0.72],[21.86,0.78],
 [21.95,2.90],[21.98,2.75],[22.00,2.95],[22.02,2.40],[22.05,2.00],[22.08,2.30],[22.10,1.85],[22.12,2.50],[22.00,2.10],[21.96,1.90],
 [21.96,2.60],[21.99,2.85],[22.01,2.20],[22.04,2.55],[22.06,2.15],[22.09,2.45],[22.11,2.05],[22.13,2.30],
 [22.02,1.45],[22.05,1.00],[22.08,1.30],[22.10,0.90],[22.14,1.20],[22.18,1.50],[22.16,0.95],[22.35,0.83],
 [22.03,1.20],[22.07,1.35],[22.09,1.10],[22.12,1.40],[22.15,1.05],[22.17,1.30],
 [22.50,3.00],[22.55,2.70],[22.60,3.05],[22.65,2.80],[22.70,2.95],[22.56,3.65],[22.72,2.65],
 [22.52,2.85],[22.57,2.90],[22.62,2.75],[22.67,3.00],[22.71,2.80],
 [22.70,2.15],[22.75,2.10],[22.80,2.20],
 [22.78,3.80],[22.80,3.50],[22.84,3.70],[22.86,3.30],[22.90,3.60],[22.92,3.25],[22.95,3.45],
 [22.79,3.60],[22.82,3.40],[22.85,3.55],[22.88,3.70],[22.91,3.40],[22.94,3.60],[22.97,3.30],
 [22.85,2.40],[22.90,2.50],[22.95,2.35],
 [23.15,5.85],[23.15,5.68],[23.15,5.07],
 [23.12,3.00],[23.14,3.40],[23.16,2.50],[23.18,2.00],[23.20,2.30],[23.22,1.80],[23.24,2.60],[23.26,1.60],[23.28,2.20],[23.30,1.90],[23.32,2.40],[23.34,1.70],[23.36,2.10],[23.38,2.70],
 [23.13,2.80],[23.15,3.20],[23.17,2.20],[23.19,2.60],[23.21,2.00],[23.23,2.45],[23.25,2.10],[23.27,1.90],[23.29,2.50],[23.31,2.10],[23.33,1.80],[23.35,2.30],[23.37,1.95],[23.39,2.40],
 [23.30,3.35],[23.35,3.25],[23.38,2.75],
 [23.38,1.00],[23.42,0.90],[23.46,1.00],
 [23.52,3.40],[23.56,3.60],[23.60,3.50],[23.64,3.65],
 [23.60,4.30],[23.64,4.50],[23.68,4.75],[23.72,4.40],[23.76,4.60],[23.80,4.85],[23.84,4.20],[23.88,4.70],[23.92,4.45],[23.96,4.80],[24.00,4.30],[24.04,4.65],[24.08,4.10],[24.12,4.50],[24.16,4.70],[24.20,4.35],[24.24,4.55],[24.28,4.20],[24.32,4.60],[23.90,4.05],[23.75,4.15],
 [23.62,4.60],[23.66,4.35],[23.70,4.60],[23.74,4.80],[23.78,4.30],[23.82,4.55],[23.86,4.75],[23.90,4.35],[23.94,4.60],[23.98,4.50],[24.02,4.80],[24.06,4.40],[24.10,4.70],[24.14,4.25],[24.18,4.50],[24.22,4.75],[24.26,4.40],[24.30,4.30],[24.34,4.50],
 [23.95,3.80],[23.98,3.50],[24.00,3.20],[24.02,3.60],[24.05,2.60],[24.08,2.50],[24.10,2.20],[24.12,3.00],[24.15,2.30],[24.18,3.10],[24.20,2.15],[24.22,2.90],
 [23.96,3.60],[23.99,3.30],[24.01,3.90],[24.03,2.80],[24.06,2.30],[24.09,2.80],[24.11,2.55],[24.13,2.25],[24.16,2.70],[24.19,2.40],[24.21,2.60],[24.23,2.20],
 [24.30,4.70],[24.34,4.30],[24.38,3.90],[24.42,4.50],[24.46,3.60],[24.50,4.20],[24.54,3.30],[24.58,4.00],[24.62,3.50],[24.65,3.10],[24.60,4.10],
 [24.32,4.45],[24.36,4.10],[24.40,4.30],[24.44,3.80],[24.48,3.90],[24.52,3.70],[24.56,4.25],[24.60,3.80],[24.63,3.30],[24.66,3.60],
 [24.40,2.90],[24.45,2.60],[24.50,2.45],[24.55,2.80],[24.47,2.15],[24.50,2.00],[24.68,1.36],
 [24.24,2.50],[24.28,3.00],[24.32,3.60],[24.36,2.70],[24.40,3.40],[24.44,3.10],[24.48,2.30],[24.52,2.90],[24.56,3.50],[24.60,2.60],[24.64,3.00],[24.68,2.40],[24.72,2.00],[24.76,2.70],[24.80,1.90],[24.84,2.50],[24.88,1.70],[24.92,2.60],[24.96,2.30],[25.00,1.60],[25.04,2.00],[25.08,2.40],[25.12,1.60],[25.16,1.90],
 [24.62,0.50],[24.66,0.55],[24.70,0.48],
 [24.62,2.20],[24.66,1.80],[24.70,2.90],[24.74,2.40],[24.78,1.60],[24.82,2.70],[24.86,2.00],[24.90,2.95],[24.94,1.50],[24.98,2.50],[25.02,1.90],[25.06,2.30],[25.10,1.40],[25.14,1.70],[25.18,1.35],[25.20,1.90],
 [24.64,2.50],[24.68,2.10],[24.72,2.60],[24.76,2.15],[24.80,2.30],[24.84,1.80],[24.88,2.40],[24.92,2.20],[24.96,1.80],[25.00,2.20],[25.04,2.60],[25.08,1.75],[25.12,2.00],[25.16,1.50],[25.19,1.65],
 [25.20,3.10],[25.22,2.54],[25.24,1.92],[25.25,7.57],[25.25,7.03],[25.41,6.22],[25.40,5.89],[25.41,5.30],[25.40,3.84],[25.33,4.65],[25.30,4.45],[25.38,4.45],
 [25.22,0.95],[25.24,0.75],[25.26,0.60],[25.28,0.85],
 [25.12,0.30],[25.16,0.10],[25.20,0.25],[25.24,0.05],[25.28,0.20],[25.32,0.32],[25.36,0.10],[25.40,0.20],[25.44,0.05],
 [17.76,0],[17.84,0],[17.92,0],[18.00,0],[18.08,0],[18.16,0],[18.24,0],[18.32,0],[18.40,0],[18.48,0],[18.56,0],[18.64,0],[18.70,0],
 [19.06,0],[19.14,0],[19.22,0],[19.28,0],
 [20.66,0],[20.74,0],[20.82,0],[20.90,0],[20.98,0],[21.06,0],[21.14,0],[21.22,0],[21.30,0],[21.38,0],[21.46,0],[21.54,0],[21.62,0],[21.70,0],[21.78,0],[21.86,0],[21.94,0],[22.00,0],
 [22.38,0],[22.46,0],[22.54,0],[22.62,0],[22.70,0],[22.78,0],[22.86,0],[22.94,0],[23.02,0],[23.06,0],
 [23.42,0],[23.48,0],[23.54,0],
 [25.48,0],[25.56,0],[25.64,0],[25.72,0],[25.80,0]
];

// Panel 4: wind speed (no data)
const windSpeed = [];

// Reference level line at r0 = 5 cm
const refLevel = 5;
const refSolid = [[13.372, 16.22], [17.52, 25.805]];
const refDashed = [[16.39, 17.52]];

// ---------------- DRAWING ----------------
const svg = d3.select("#c");
const asterisk = "M-5,0H5M0,-5V5M-3.8,-3.8L3.8,3.8M-3.8,3.8L3.8,-3.8";
const hourglass = "M-5,-4.5L5,-4.5L2,0L5,4.5L-5,4.5L-2,0Z";
const MAGENTA = "#c80096";

svg.append("text").attr("x", 28).attr("y", 16)
  .attr("font-size", 16).attr("textLength", 500).attr("lengthAdjust", "spacingAndGlyphs")
  .text(titleText);

function fmtTick(d){ return d < 0 ? "\u2212" + Math.abs(d) : String(d); }

function drawPanel(cfg, idx){
  const x = d3.scaleLinear().domain(utDomain).range([cfg.x0, cfg.x1]);
  const y = d3.scaleLinear().domain(cfg.yDomain).range([cfg.y1, cfg.y0]);
  const g = svg.append("g");
  const clipId = "clip" + idx;
  svg.append("clipPath").attr("id", clipId).append("rect")
    .attr("x", cfg.x0).attr("y", cfg.y0).attr("width", cfg.x1 - cfg.x0).attr("height", cfg.y1 - cfg.y0);
  const plot = g.append("g").attr("clip-path", `url(#${clipId})`);

  plot.selectAll("path.ast").data(cfg.black).join("path").attr("class","ast")
    .attr("d", asterisk).attr("transform", d => `translate(${x(d[0])},${y(d[1])})`)
    .attr("fill","none").attr("stroke","#000").attr("stroke-width",1.5);
  if (cfg.magenta) {
    plot.selectAll("path.mag").data(cfg.magenta).join("path").attr("class","mag")
      .attr("d", hourglass).attr("transform", d => `translate(${x(d[0])},${y(d[1])})`)
      .attr("fill", MAGENTA).attr("shape-rendering","crispEdges");
  }
  if (cfg.refLine) {
    const yy = Math.round(y(refLevel)) + 0.5;
    refSolid.forEach(s => plot.append("line")
      .attr("x1", x(s[0])).attr("x2", x(s[1])).attr("y1", yy).attr("y2", yy)
      .attr("stroke","#000").attr("stroke-width",1).attr("shape-rendering","crispEdges"));
    refDashed.forEach(s => plot.append("line")
      .attr("x1", x(s[0])).attr("x2", x(s[1])).attr("y1", yy).attr("y2", yy)
      .attr("stroke","#000").attr("stroke-width",1).attr("stroke-dasharray","7,9").attr("shape-rendering","crispEdges"));
  }

  g.append("rect").attr("x", cfg.x0+0.5).attr("y", cfg.y0+0.5)
    .attr("width", cfg.x1-cfg.x0).attr("height", cfg.y1-cfg.y0)
    .attr("fill","none").attr("stroke","#000").attr("shape-rendering","crispEdges");

  const style = sel => { sel.select(".domain").remove();
    sel.selectAll("line").attr("stroke","#000").attr("shape-rendering","crispEdges");
    sel.selectAll("text").attr("font-size",14).attr("font-family",'"Liberation Sans",Arial,sans-serif').attr("fill","#000"); };

  g.append("g").attr("transform",`translate(0,${cfg.y1+0.5})`)
    .call(d3.axisBottom(x).tickValues(xMajorTicks).tickSize(-8).tickPadding(11).tickFormat(d3.format("d"))).call(style);
  g.append("g").attr("transform",`translate(0,${cfg.y1+0.5})`)
    .call(d3.axisBottom(x).tickValues(xMinorTicks).tickSize(-4).tickFormat("")).call(style);
  g.append("g").attr("transform",`translate(0,${cfg.y0+0.5})`)
    .call(d3.axisTop(x).tickValues(xMajorTicks).tickSize(-8).tickFormat("")).call(style);
  g.append("g").attr("transform",`translate(0,${cfg.y0+0.5})`)
    .call(d3.axisTop(x).tickValues(xMinorTicks).tickSize(-4).tickFormat("")).call(style);
  const yl = g.append("g").attr("transform",`translate(${cfg.x0+0.5},0)`)
    .call(d3.axisLeft(y).tickValues(cfg.yMajor).tickSize(-8).tickPadding(6).tickFormat(fmtTick)).call(style);
  const top = cfg.yDomain[1];
  yl.selectAll(".tick text").attr("dy", d => d === top ? "0.6em" : "0.36em");
  g.append("g").attr("transform",`translate(${cfg.x0+0.5},0)`)
    .call(d3.axisLeft(y).tickValues(cfg.yMinor).tickSize(-4).tickFormat("")).call(style);
  g.append("g").attr("transform",`translate(${cfg.x1+0.5},0)`)
    .call(d3.axisRight(y).tickValues(cfg.yMajor).tickSize(-8).tickFormat("")).call(style);
  g.append("g").attr("transform",`translate(${cfg.x1+0.5},0)`)
    .call(d3.axisRight(y).tickValues(cfg.yMinor).tickSize(-4).tickFormat("")).call(style);

  g.append("text").attr("x",(cfg.x0+cfg.x1)/2).attr("y",cfg.y1+36).attr("text-anchor","middle")
    .attr("font-size",14).text("UT");
  const t = g.append("text").attr("transform",`translate(${cfg.x0-30},${(cfg.y0+cfg.y1)/2}) rotate(-90)`)
    .attr("text-anchor","middle").attr("font-size",14);
  cfg.ylabel.forEach(p => {
    const ts = t.append("tspan").text(p.t);
    if (p.k === "sub") ts.attr("font-size",9).attr("dy",3);
    else if (p.k === "sup") ts.attr("font-size",8).attr("dy",-10);
    else if (p.dy) ts.attr("font-size",14).attr("dy",p.dy);
  });
}

const minor = (a,b,s,skip) => d3.range(a, b+1e-9, s).filter(v => !skip.some(m => Math.abs(m-v)<1e-9));

const panels = [
  { x0:80, x1:476, y0:24, y1:450, yDomain:[0,15], yMajor:[0,5,10,15], yMinor:minor(0,15,1,[0,5,10,15]),
    black:calc25, magenta:sdimm25, refLine:true,
    ylabel:[{t:"r"},{t:"o",k:"sub"},{t:"CALC,SDIMM",k:"sup"},{t:"  (cm) at  at 2.5000000 meters",dy:7}] },
  { x0:580, x1:976, y0:24, y1:450, yDomain:[-5,5], yMajor:[-4,-2,0,2,4], yMinor:minor(-5,5,0.5,[-4,-2,0,2,4]),
    black:diff25,
    ylabel:[{t:"r"},{t:"o",k:"sub"},{t:"CALC",k:"sup"},{t:"  \u2212  r",dy:7},{t:"o",k:"sub"},{t:"SDIMM",k:"sup"},{t:" (cm) at 2.5000000 meters",dy:7}] },
  { x0:80, x1:476, y0:525, y1:951, yDomain:[0,10], yMajor:[0,2,4,6,8,10], yMinor:minor(0,10,0.5,[0,2,4,6,8,10]),
    black:calc15, refLine:true,
    ylabel:[{t:"r"},{t:"o",k:"sub"},{t:"CALC",k:"sup"},{t:" (cm) at 15 meters",dy:7}] },
  { x0:580, x1:976, y0:525, y1:951, yDomain:[0,10], yMajor:[0,2,4,6,8,10], yMinor:minor(0,10,0.5,[0,2,4,6,8,10]),
    black:windSpeed,
    ylabel:[{t:"WIND SPEED (m/s)"}] }
];
panels.forEach(drawPanel);
</script>
</body></html>
